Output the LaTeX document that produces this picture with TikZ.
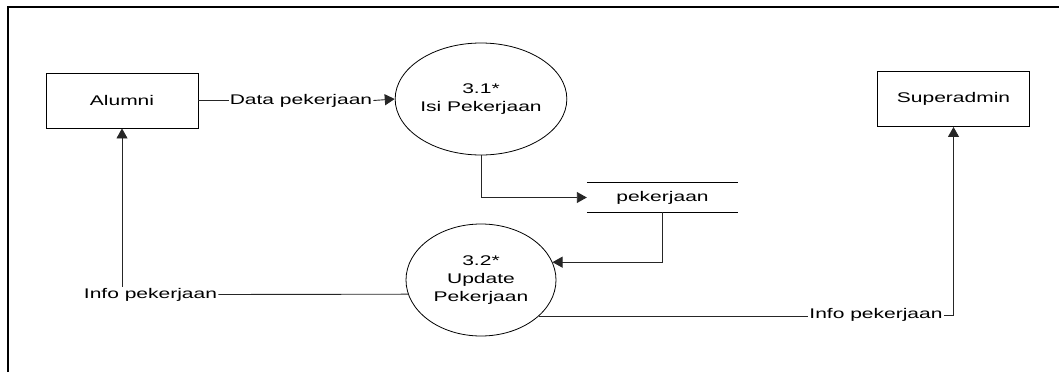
\documentclass[tikz,border=0pt]{standalone}
\usepackage{fontspec}
\setmainfont{Liberation Sans}[FakeStretch=1.5]
\usetikzlibrary{arrows.meta,shapes.geometric}
\begin{document}
\begin{tikzpicture}[x=1pt,y=-1pt,
  every node/.style={font=\fontsize{14}{18}\selectfont},
  entity/.style={draw,line width=0.9pt,minimum width=152pt,minimum height=55pt,inner sep=0pt},
  proc/.style={draw,ellipse,line width=0.8pt,minimum width=150pt,minimum height=112pt,inner sep=0pt,align=center},
  lbl/.style={inner sep=1pt},
  flow/.style={line width=0.9pt,draw=black!85,-{Triangle[length=10pt,width=11pt]}},
  plain/.style={line width=0.9pt,draw=black!85}]
\useasboundingbox (0,0) rectangle (1059,372);
\draw[line width=1.4pt] (8,372) -- (8,7) -- (1059,7);

\node[entity] (alumni) at (122,100.5) {Alumni};
\node[entity] (super) at (953.5,99) {Superadmin};
\node[proc] (p31) at (481,99) {3.1*\\Isi Pekerjaan};
\node[proc] (p32) at (481,280) {3.2*\\Update\\Pekerjaan};
\node[minimum width=151pt,minimum height=29pt,inner sep=0pt] (store) at (662.5,197.5) {pekerjaan};
\draw[line width=0.8pt] (store.north west) -- (store.north east);
\draw[line width=0.8pt] (store.south west) -- (store.south east);

\node[lbl] (dp) at (301,100.5) {Data pekerjaan};
\node[lbl] (il) at (150.5,294.5) {Info pekerjaan};
\node[lbl] (ir) at (876,315) {Info pekerjaan};

\draw[plain] (alumni.east) -- (dp.west);
\draw[flow] (dp.east) -- (p31.west);
\draw[flow] (p31.south) |- (store.west);
\draw[flow] (store.south) |- (p32.14);
\draw[plain] (p32.191) -- (il.east);
\draw[flow] (alumni.south |- il.north) -- (alumni.south);
\draw[plain] (p32.-32) -- (ir.west |- p32.-32);
\draw[flow] (ir.east) -| (super.south);
\end{tikzpicture}
\end{document}
